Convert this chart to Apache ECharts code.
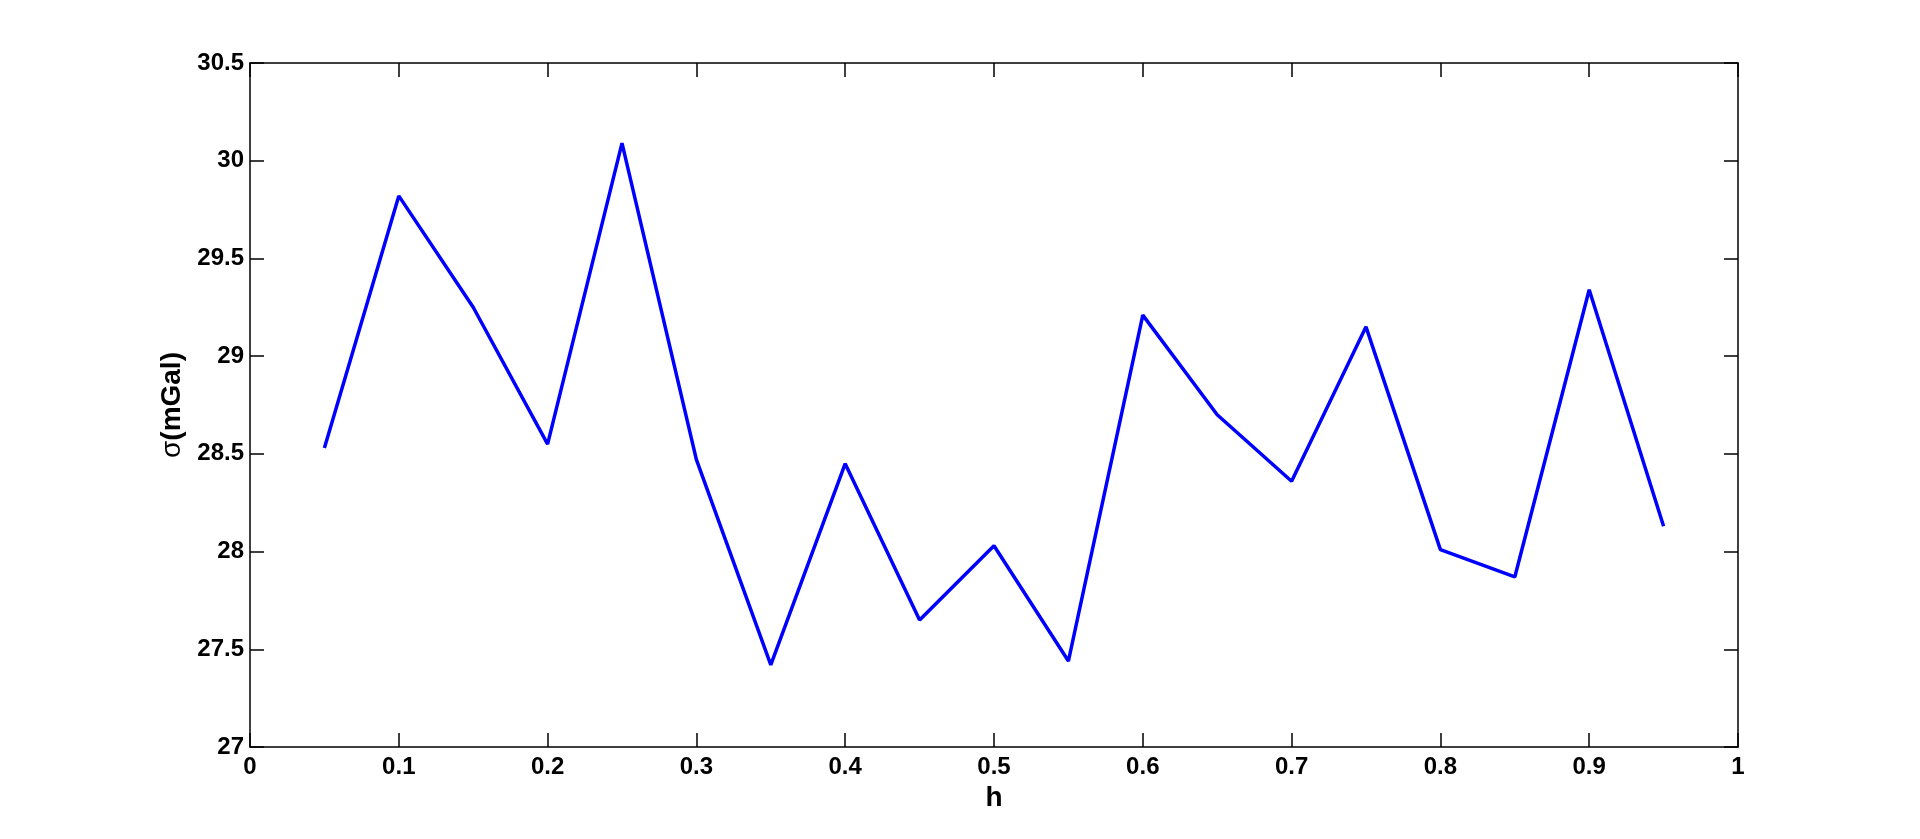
<!DOCTYPE html>
<html>
<head>
<meta charset="utf-8">
<script src="https://cdn.jsdelivr.net/npm/echarts@6/dist/echarts.min.js"></script>
<style>
  html, body { margin: 0; padding: 0; background: #fff; }
  #main { width: 1920px; height: 839px; }
</style>
</head>
<body>
<div id="main"></div>
<script>
// h 和 σ 的读数
var hValues = [0.05, 0.1, 0.15, 0.2, 0.25, 0.3, 0.35, 0.4, 0.45, 0.5,
               0.55, 0.6, 0.65, 0.7, 0.75, 0.8, 0.85, 0.9, 0.95];
var sigmaValues = [28.53, 29.82, 29.25, 28.55, 30.09, 28.47, 27.42, 28.45, 27.65, 28.03,
                   27.44, 29.21, 28.70, 28.36, 29.15, 28.01, 27.87, 29.34, 28.13];

var chart = echarts.init(document.getElementById('main'));

var pts = [];
for (var i = 0; i < hValues.length; i++) {
    pts.push([hValues[i], sigmaValues[i]]);
}

var FONT = 'Liberation Sans, Arial, sans-serif';

function axisLine() {
    return { show: true, onZero: false, lineStyle: { color: '#000', width: 1.5 } };
}
function tick() {
    return { show: true, inside: true, length: 14, lineStyle: { color: '#000', width: 1.5 } };
}
function label(margin) {
    return { show: true, margin: margin, color: '#000', fontFamily: FONT, fontWeight: 'bold', fontSize: 24 };
}

var option = {
    backgroundColor: '#fff',
    animation: false,
    grid: { left: 250, right: 182, top: 63, bottom: 92 },
    xAxis: [
        {
            type: 'value', min: 0, max: 1, interval: 0.1,
            name: 'h', nameLocation: 'middle', nameGap: 33,
            nameTextStyle: { color: '#000', fontFamily: FONT, fontWeight: 'bold', fontSize: 28 },
            axisLine: axisLine(), axisTick: tick(),
            axisLabel: label(8),
            splitLine: { show: false }
        },
        {
            type: 'value', min: 0, max: 1, interval: 0.1, position: 'top',
            axisLine: axisLine(), axisTick: tick(),
            axisLabel: { show: false }, splitLine: { show: false }
        }
    ],
    yAxis: [
        {
            type: 'value', min: 27, max: 30.5, interval: 0.5,
            name: '{s|σ}(mGal)', nameLocation: 'middle', nameGap: 60, nameRotate: 90,
            nameTextStyle: {
                color: '#000', fontFamily: FONT, fontWeight: 'bold', fontSize: 28,
                rich: { s: { color: '#000', fontFamily: FONT, fontWeight: 'normal', fontSize: 28 } }
            },
            axisLine: axisLine(), axisTick: tick(),
            axisLabel: label(6),
            splitLine: { show: false }
        },
        {
            type: 'value', min: 27, max: 30.5, interval: 0.5, position: 'right',
            axisLine: axisLine(), axisTick: tick(),
            axisLabel: { show: false }, splitLine: { show: false }
        }
    ],
    series: [
        {
            type: 'line',
            xAxisIndex: 0,
            yAxisIndex: 0,
            data: pts,
            showSymbol: false,
            lineStyle: { color: '#0000ff', width: 3.5 },
            itemStyle: { color: '#0000ff' }
        }
    ]
};

chart.setOption(option);
</script>
</body>
</html>
